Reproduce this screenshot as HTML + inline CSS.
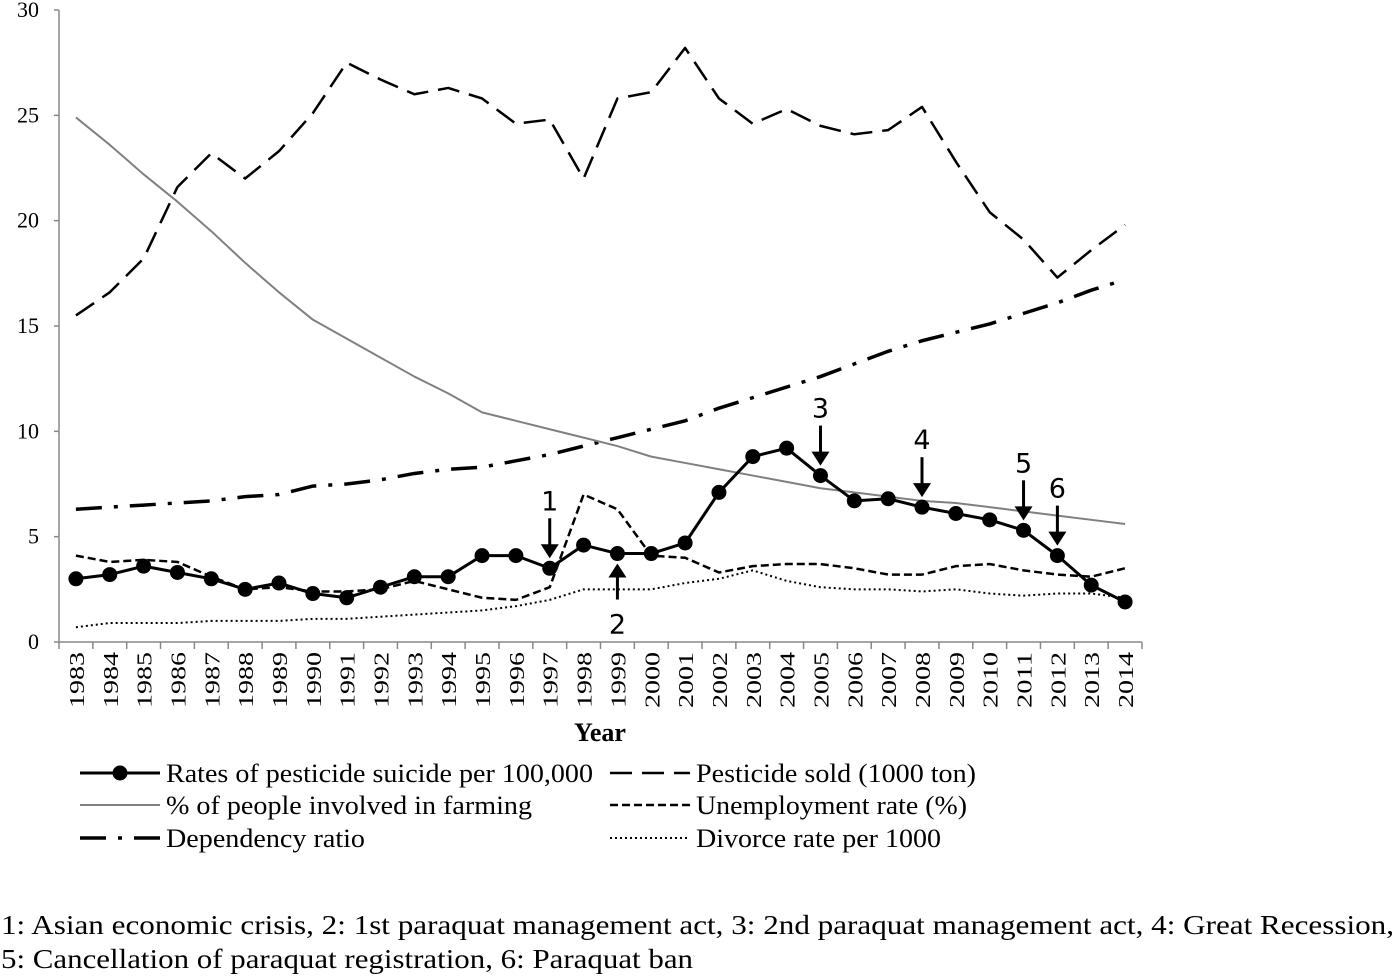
<!DOCTYPE html>
<html><head><meta charset="utf-8"><style>
body{margin:0;background:#fff}
svg{display:block}
text{font-family:"Liberation Serif",serif;fill:#000}
</style></head><body>
<svg id="chart" width="1400" height="976" viewBox="0 0 1400 976" xmlns="http://www.w3.org/2000/svg"></svg>
<script>
const years=[1983,1984,1985,1986,1987,1988,1989,1990,1991,1992,1993,1994,1995,1996,1997,1998,1999,2000,2001,2002,2003,2004,2005,2006,2007,2008,2009,2010,2011,2012,2013,2014];
const suicide=[3.0,3.2,3.6,3.3,3.0,2.5,2.8,2.3,2.1,2.6,3.1,3.1,4.1,4.1,3.5,4.6,4.2,4.2,4.7,7.1,8.8,9.2,7.9,6.7,6.8,6.4,6.1,5.8,5.3,4.1,2.7,1.9];
const sold=[15.5,16.6,18.2,21.6,23.2,22.0,23.3,25.1,27.5,26.7,26.0,26.3,25.8,24.6,24.8,22.0,25.8,26.1,28.2,25.8,24.6,25.3,24.5,24.1,24.3,25.4,22.8,20.4,19.1,17.3,18.6,19.8];
const farming=[24.9,23.6,22.2,20.9,19.5,18.0,16.6,15.3,14.4,13.5,12.6,11.8,10.9,10.5,10.1,9.7,9.3,8.8,8.5,8.2,7.9,7.6,7.3,7.1,6.9,6.7,6.6,6.4,6.2,6.0,5.8,5.6];
const unemployment=[4.1,3.8,3.9,3.8,3.1,2.5,2.6,2.4,2.4,2.5,2.9,2.5,2.1,2.0,2.6,7.0,6.3,4.1,4.0,3.3,3.6,3.7,3.7,3.5,3.2,3.2,3.6,3.7,3.4,3.2,3.1,3.5];
const dependency=[6.3,6.4,6.5,6.6,6.7,6.9,7.0,7.4,7.5,7.7,8.0,8.2,8.3,8.6,8.9,9.3,9.7,10.1,10.5,11.1,11.6,12.1,12.6,13.2,13.8,14.3,14.7,15.1,15.6,16.1,16.7,17.2];
const divorce=[0.7,0.9,0.9,0.9,1.0,1.0,1.0,1.1,1.1,1.2,1.3,1.4,1.5,1.7,2.0,2.5,2.5,2.5,2.8,3.0,3.4,2.9,2.6,2.5,2.5,2.4,2.5,2.3,2.2,2.3,2.3,2.1];
const yTicks=[0,5,10,15,20,25,30];
const events=[{n:"1",year:1997,dir:"down"},{n:"2",year:1999,dir:"up"},{n:"3",year:2005,dir:"down"},{n:"4",year:2008,dir:"down"},{n:"5",year:2011,dir:"down"},{n:"6",year:2012,dir:"down"}];

const NS="http://www.w3.org/2000/svg",svg=document.getElementById('chart');
const X0=59,X1=1142,Y0=642,Y30=10;
const band=(X1-X0)/years.length;
const xs=i=>X0+band*(i+0.5);
const ys=v=>Y0-(Y0-Y30)*v/30;
function mk(tag,attrs,parent){const e=document.createElementNS(NS,tag);for(const k in attrs)e.setAttribute(k,attrs[k]);(parent||svg).appendChild(e);return e;}

const ya=mk('line',{x1:X0,y1:Y30,x2:X0,y2:Y0,stroke:'#888','stroke-width':1.5});

const xa=mk('line',{x1:X0,y1:Y0,x2:X1,y2:Y0,stroke:'#888','stroke-width':1.5});

yTicks.forEach(t=>{
  const tk=mk('line',{x1:X0-5,y1:ys(t),x2:X0,y2:ys(t),stroke:'#888','stroke-width':1.5});
  
  const l=mk('text',{x:39,y:ys(t)+7,'text-anchor':'end','font-size':22});l.textContent=t;
  
});
for(let i=0;i<=years.length;i++){
  const x=X0+band*i;
  const tk=mk('line',{x1:x,y1:Y0,x2:x,y2:Y0+7,stroke:'#888','stroke-width':1.5});
  
}
years.forEach((y,i)=>{
  const l=mk('text',{x:0,y:0,'text-anchor':'end','font-size':21,textLength:56,lengthAdjust:'spacingAndGlyphs',transform:`translate(${xs(i)+8},${Y0+10}) rotate(-90)`});l.textContent=y;
  
});
const xt=mk('text',{x:600,y:741,'text-anchor':'middle','font-size':26,'font-weight':'bold'});xt.textContent='Year';


function line(arr,style,name){
  const p=mk('polyline',Object.assign({points:arr.map((v,i)=>xs(i)+','+ys(v)).join(' '),fill:'none','stroke-linejoin':'round'},style));
  
}
const stDivorce={stroke:'#000','stroke-width':2,'stroke-dasharray':'2 3'};
const stUnemp={stroke:'#000','stroke-width':2.5,'stroke-dasharray':'8 4'};
const stDep={stroke:'#000','stroke-width':3.5,'stroke-dasharray':'26 12 4 12'};
const stFarm={stroke:'#808080','stroke-width':2};
const stSold={stroke:'#000','stroke-width':2.5,'stroke-dasharray':'22 10'};
const stSui={stroke:'#000','stroke-width':3};
line(divorce,stDivorce,'divorce-rate-line');
line(unemployment,stUnemp,'unemployment-rate-line');
line(dependency,stDep,'dependency-ratio-line');
line(farming,stFarm,'farming-percent-line');
line(sold,stSold,'pesticide-sold-line');
line(suicide,stSui,'pesticide-suicide-line');
suicide.forEach((v,i)=>{
  const c=mk('circle',{cx:xs(i),cy:ys(v),r:7.5,fill:'#000'});
  
});

events.forEach(ev=>{
  const i=years.indexOf(ev.year),x=xs(i),py=ys(suicide[i]);
  const g=mk('g',{});
  
  if(ev.dir==='down'){
    const tip=py-10;
    mk('line',{x1:x,y1:tip-40,x2:x,y2:tip-10,stroke:'#000','stroke-width':3},g);
    mk('polygon',{points:`${x-9},${tip-14} ${x+9},${tip-14} ${x},${tip}`,fill:'#000'},g);
    const t=mk('text',{x:x,y:tip-48,'text-anchor':'middle','font-size':27,style:'font-family:"DejaVu Sans",sans-serif'},g);t.textContent=ev.n;
  }else{
    const tip=py+10;
    mk('line',{x1:x,y1:tip+10,x2:x,y2:tip+36,stroke:'#000','stroke-width':3},g);
    mk('polygon',{points:`${x-9},${tip+14} ${x+9},${tip+14} ${x},${tip}`,fill:'#000'},g);
    const t=mk('text',{x:x,y:tip+70,'text-anchor':'middle','font-size':27,style:'font-family:"DejaVu Sans",sans-serif'},g);t.textContent=ev.n;
  }
});

const legend=[
 {label:'Rates of pesticide suicide per 100,000',st:stSui,dot:true,x:80,y:773,w:427},
 {label:'Pesticide sold (1000 ton)',st:stSold,x:610,y:773,w:280},
 {label:'% of people involved in farming',st:stFarm,x:80,y:805,w:366},
 {label:'Unemployment rate (%)',st:stUnemp,x:610,y:805,w:271},
 {label:'Dependency ratio',st:stDep,x:80,y:838,w:199},
 {label:'Divorce rate per 1000',st:stDivorce,x:610,y:838,w:245}];
legend.forEach(e=>{
  const g=mk('g',{});
  
  mk('line',Object.assign({x1:e.x,y1:e.y,x2:e.x+80,y2:e.y},e.st),g);
  if(e.dot)mk('circle',{cx:e.x+40,cy:e.y,r:7.5,fill:'#000'},g);
  const t=mk('text',{x:e.x+86,y:e.y+9,'font-size':26,textLength:e.w,lengthAdjust:'spacingAndGlyphs'},g);t.textContent=e.label;
});

const f1=mk('text',{x:1,y:934,'font-size':27,textLength:1393,lengthAdjust:'spacingAndGlyphs'});f1.textContent='1: Asian economic crisis, 2: 1st paraquat management act, 3: 2nd paraquat management act, 4: Great Recession,';

const f2=mk('text',{x:1,y:968,'font-size':27,textLength:692,lengthAdjust:'spacingAndGlyphs'});f2.textContent='5: Cancellation of paraquat registration, 6: Paraquat ban';

</script>
</body></html>
